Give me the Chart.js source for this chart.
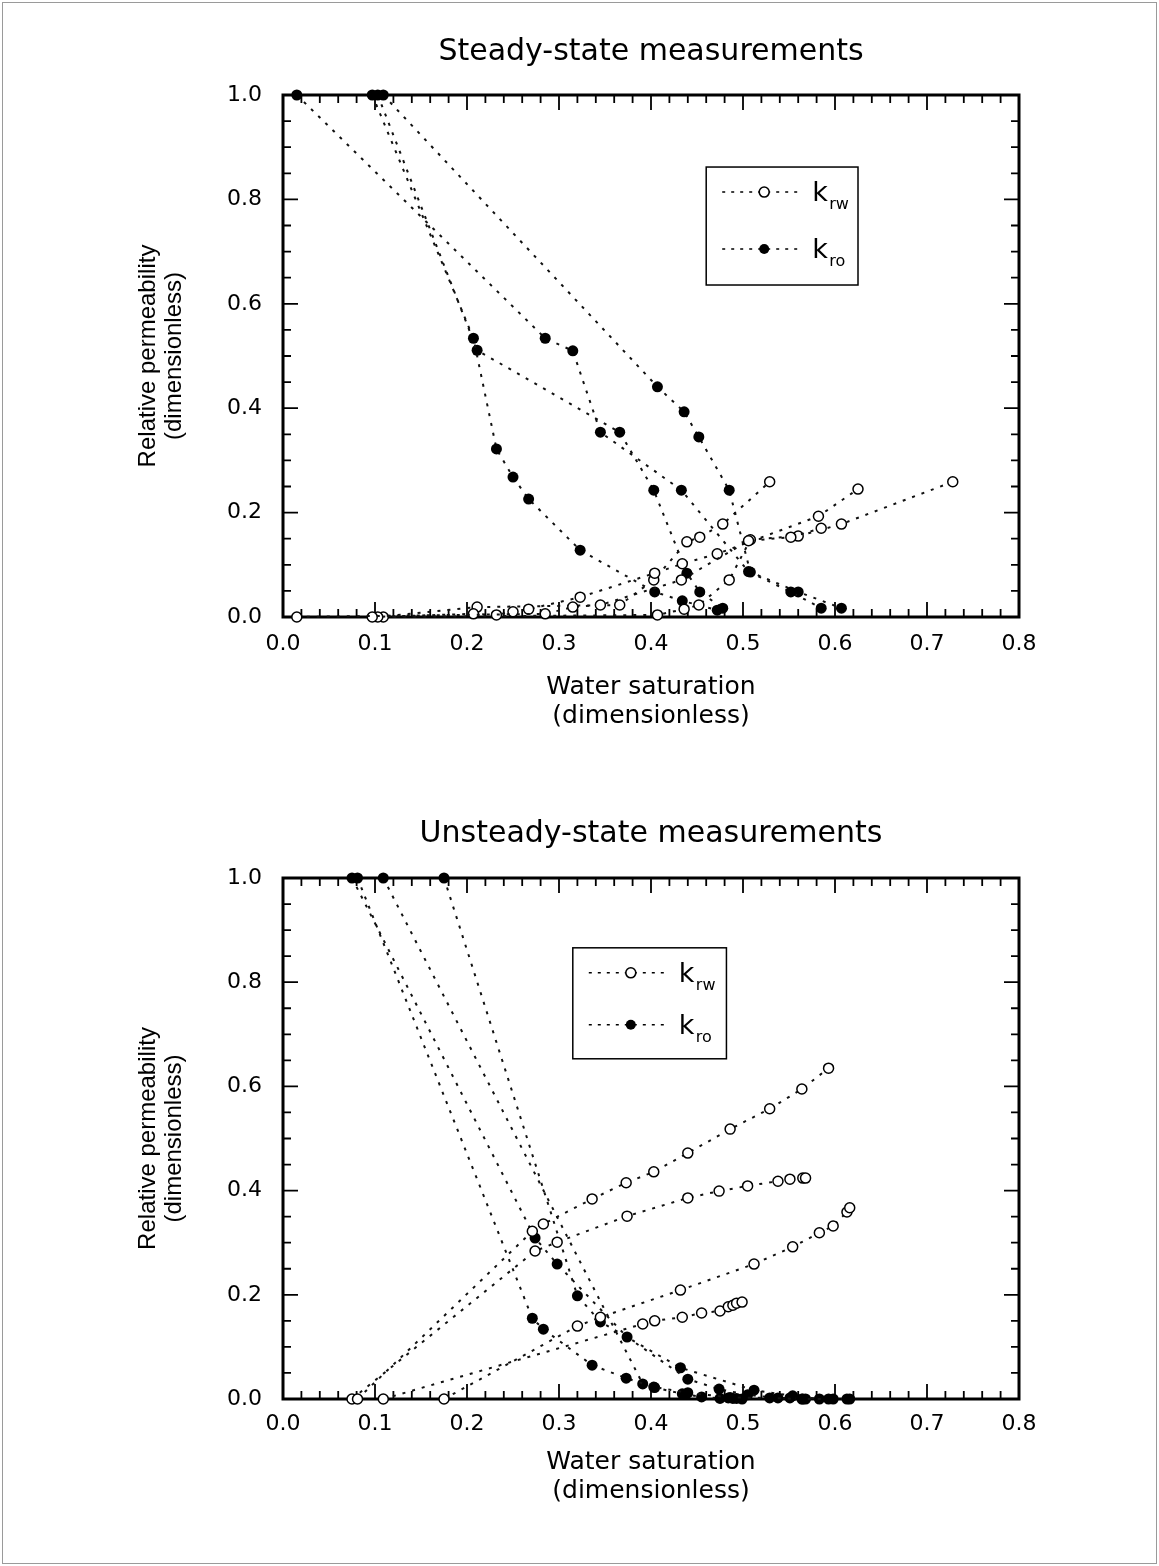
<!DOCTYPE html>
<html lang="en">
<head>
<meta charset="UTF-8">
<title>Relative permeability measurements</title>
<script src="https://cdn.jsdelivr.net/npm/chart.js"></script>
<style>
    html, body {
        margin: 0;
        padding: 0;
        background: #fff;
        overflow: hidden;
    }

    .page {
        position: relative;
        width: 1159px;
        height: 1566px;
    }

    .frame {
        position: absolute;
        left: 2px;
        top: 2px;
        width: 1153px;
        height: 1560px;
        border: 1px solid #9a9a9a;
    }

    .chart-box {
        position: absolute;
        left: 0;
        width: 1159px;
        height: 783px;
    }
</style>
</head>
<body>
<div class="page">
    <div class="frame"></div>
    <div class="chart-box" style="top:0"><canvas id="steadyChart" width="1159" height="783"></canvas></div>
    <div class="chart-box" style="top:783px"><canvas id="unsteadyChart" width="1159" height="783"></canvas></div>
</div>

<script>
    // ---- Steady-state data (water saturation, kro, krw) ----
    const ssSwA  = [0.015, 0.285, 0.315, 0.345, 0.433, 0.506, 0.552, 0.585];
    const ssKroA = [1.0,   0.534, 0.510, 0.354, 0.243, 0.087, 0.048, 0.017];
    const ssKrwA = [0.0,   0.006, 0.019, 0.023, 0.071, 0.146, 0.153, 0.170];

    const ssSwB  = [0.097, 0.207, 0.232, 0.250, 0.267, 0.323, 0.404, 0.434, 0.472, 0.582, 0.625];
    const ssKroB = [1.0,   0.534, 0.322, 0.268, 0.226, 0.128, 0.048, 0.031, 0.013, null,  null];
    const ssKrwB = [0.0,   0.006, 0.004, 0.010, 0.015, 0.038, 0.084, 0.102, 0.121, 0.193, 0.245];

    const ssSwC  = [0.103, 0.211, 0.366, 0.403, 0.439, 0.453, 0.478, 0.529];
    const ssKroC = [1.0,   0.511, 0.354, 0.243, 0.084, 0.048, 0.017, null];
    const ssKrwC = [0.0,   0.019, 0.023, 0.071, 0.144, 0.153, 0.178, 0.259];

    const ssSwD  = [0.109, 0.407, 0.436, 0.452, 0.485, 0.508, 0.560, 0.607, 0.728];
    const ssKroD = [1.0,   0.441, 0.393, 0.345, 0.243, 0.086, 0.048, 0.017, null];
    const ssKrwD = [0.0,   0.004, 0.015, 0.023, 0.071, 0.148, 0.155, 0.178, 0.259];

    // ---- Unsteady-state data ----
    const usSw1  = [0.081, 0.271, 0.283, 0.336, 0.373, 0.403, 0.440, 0.486, 0.529, 0.564, 0.593];
    const usKro1 = [1.0,   0.155, 0.134, 0.065, 0.040, 0.023, 0.012, 0.003, 0.002, 0.0,   0.0];
    const usKrw1 = [0.0,   0.322, 0.336, 0.384, 0.415, 0.436, 0.472, 0.518, 0.557, 0.595, 0.635];

    const usSw2  = [0.075, 0.274, 0.298, 0.374, 0.440, 0.474, 0.505, 0.538, 0.551, 0.565, 0.568];
    const usKro2 = [1.0,   0.309, 0.259, 0.119, 0.038, 0.019, 0.008, 0.002, 0.002, 0.0,   0.0];
    const usKrw2 = [0.0,   0.284, 0.301, 0.351, 0.386, 0.399, 0.409, 0.418, 0.422, 0.424, 0.424];

    const usSw3  = [0.109, 0.391, 0.404, 0.434, 0.455, 0.475, 0.484, 0.489, 0.493, 0.499];
    const usKro3 = [1.0,   0.029, 0.022, 0.010, 0.004, 0.001, 0.002, 0.001, 0.001, 0.0];
    const usKrw3 = [0.0,   0.144, 0.150, 0.157, 0.165, 0.169, 0.177, 0.180, 0.184, 0.186];

    const usSw4  = [0.175, 0.320, 0.345, 0.432, 0.512, 0.554, 0.583, 0.598, 0.613, 0.616];
    const usKro4 = [1.0,   0.198, 0.148, 0.060, 0.017, 0.006, 0.0,   0.0,   0.0,   0.0];
    const usKrw4 = [0.0,   0.140, 0.157, 0.209, 0.259, 0.292, 0.319, 0.332, 0.359, 0.367];

    const xTitleLines = ['Water saturation', '(dimensionless)'];
    const yTitleLines = ['Relative permeability', '(dimensionless)'];

    Chart.defaults.color = '#000';

    // pair saturations with a curve, dropping points that were not plotted
    function pts(sw, k) {
        return sw.map((x, i) => ({ x: x, y: k[i] })).filter(p => p.y !== null);
    }

    function curve(sw, k, filled) {
        return {
            data: pts(sw, k),
            showLine: true,
            borderColor: '#111',
            borderWidth: 2,
            borderDash: [3, 7],
            pointStyle: 'circle',
            pointRadius: filled ? 5.5 : 5,
            pointBackgroundColor: filled ? '#000' : '#fff',
            pointBorderColor: '#000',
            pointBorderWidth: filled ? 0 : 1.5,
            clip: false
        };
    }

    // thick frame with inward ticks on all four sides
    const frameTicks = {
        id: 'frameTicks',
        beforeDatasetsDraw(chart) {
            const { ctx, chartArea: a, scales: { x, y } } = chart;
            ctx.save();
            ctx.strokeStyle = '#000';
            ctx.lineWidth = 1.8;
            ctx.beginPath();
            for (let i = 0; i <= 40; i++) {
                const px = x.getPixelForValue(i * 0.02);
                const len = i % 5 === 0 ? 15 : 8;
                ctx.moveTo(px, a.bottom); ctx.lineTo(px, a.bottom - len);
                ctx.moveTo(px, a.top); ctx.lineTo(px, a.top + len);
            }
            for (let j = 0; j <= 20; j++) {
                const py = y.getPixelForValue(j * 0.05);
                const len = j % 4 === 0 ? 15 : 8;
                ctx.moveTo(a.left, py); ctx.lineTo(a.left + len, py);
                ctx.moveTo(a.right, py); ctx.lineTo(a.right - len, py);
            }
            ctx.stroke();
            ctx.lineWidth = 3;
            ctx.strokeRect(a.left, a.top, a.right - a.left, a.bottom - a.top);
            ctx.restore();
        }
    };

    // boxed key with k_rw / k_ro
    const kKey = {
        id: 'kKey',
        afterDatasetsDraw(chart, args, o) {
            const { ctx, scales: { x, y } } = chart;
            const L = x.getPixelForValue(o.x0), R = x.getPixelForValue(o.x1);
            const T = y.getPixelForValue(o.y1), B = y.getPixelForValue(o.y0);
            ctx.save();
            ctx.fillStyle = '#fff';
            ctx.fillRect(L, T, R - L, B - T);
            ctx.strokeStyle = '#000';
            ctx.lineWidth = 1.5;
            ctx.strokeRect(L, T, R - L, B - T);
            const rows = [{ sub: 'rw', filled: false, dy: o.row1 }, { sub: 'ro', filled: true, dy: o.row2 }];
            rows.forEach(r => {
                const yy = T + r.dy;
                ctx.setLineDash([3, 6]);
                ctx.lineWidth = 1.6;
                ctx.beginPath();
                ctx.moveTo(L + 16, yy); ctx.lineTo(L + 96, yy);
                ctx.stroke();
                ctx.setLineDash([]);
                ctx.beginPath();
                ctx.arc(L + 58, yy, 5, 0, Math.PI * 2);
                ctx.fillStyle = r.filled ? '#000' : '#fff';
                ctx.fill();
                if (!r.filled) ctx.stroke();
                ctx.fillStyle = '#000';
                ctx.textBaseline = 'alphabetic';
                ctx.textAlign = 'left';
                ctx.font = '27px "DejaVu Sans"';
                ctx.fillText('k', L + 106, yy + 9);
                ctx.font = '16px "DejaVu Sans"';
                ctx.fillText(r.sub, L + 123, yy + 17);
            });
            ctx.restore();
        }
    };

    function buildChart(id, titleText, sets, opt) {
        return new Chart(document.getElementById(id), {
            type: 'scatter',
            data: { datasets: sets },
            options: {
                responsive: false,
                animation: false,
                events: [],
                layout: { padding: { left: 0, right: 140, top: 0, bottom: opt.padBottom } },
                plugins: {
                    legend: { display: false },
                    tooltip: { enabled: false },
                    title: {
                        display: true,
                        text: titleText,
                        fullSize: false,
                        color: '#000',
                        font: { family: 'DejaVu Sans', size: 30, weight: 'normal', lineHeight: 1.2 },
                        padding: { top: opt.titleTop, bottom: opt.titleBottom }
                    },
                    kKey: opt.key
                },
                scales: {
                    x: {
                        type: 'linear',
                        min: 0,
                        max: 0.8,
                        grid: { display: false },
                        border: { display: false },
                        ticks: {
                            stepSize: 0.1,
                            padding: opt.xTickPad,
                            color: '#000',
                            font: { family: 'DejaVu Sans', size: 22 },
                            callback: v => v.toFixed(1)
                        },
                        title: {
                            display: true,
                            text: xTitleLines,
                            color: '#000',
                            font: { family: 'DejaVu Sans', size: 25, lineHeight: 1.16 },
                            padding: { top: 0, bottom: opt.xTitlePad }
                        },
                        afterFit: s => { s.height = 140; }
                    },
                    y: {
                        type: 'linear',
                        min: 0,
                        max: 1,
                        grid: { display: false },
                        border: { display: false },
                        ticks: {
                            stepSize: 0.2,
                            padding: 13,
                            color: '#000',
                            font: { family: 'DejaVu Sans', size: 22 },
                            callback: v => v.toFixed(1)
                        },
                        title: {
                            display: true,
                            text: yTitleLines,
                            color: '#000',
                            font: { family: 'Liberation Sans', size: 24, lineHeight: 1.12 },
                            padding: { top: 134.5, bottom: 0 }
                        },
                        afterFit: s => { s.width = 283; }
                    }
                }
            },
            plugins: [frameTicks, kKey]
        });
    }

    buildChart('steadyChart', 'Steady-state measurements', [
        curve(ssSwA, ssKrwA, false), curve(ssSwB, ssKrwB, false),
        curve(ssSwC, ssKrwC, false), curve(ssSwD, ssKrwD, false),
        curve(ssSwA, ssKroA, true), curve(ssSwB, ssKroB, true),
        curve(ssSwC, ssKroC, true), curve(ssSwD, ssKroD, true)
    ], {
        padBottom: 26, titleTop: 34, titleBottom: 25, xTickPad: 6, xTitlePad: 26.5,
        key: { x0: 0.46, x1: 0.625, y0: 0.636, y1: 0.862, row1: 25, row2: 82 }
    });

    buildChart('unsteadyChart', 'Unsteady-state measurements', [
        curve(usSw1, usKrw1, false), curve(usSw2, usKrw2, false),
        curve(usSw3, usKrw3, false), curve(usSw4, usKrw4, false),
        curve(usSw1, usKro1, true), curve(usSw2, usKro2, true),
        curve(usSw3, usKro3, true), curve(usSw4, usKro4, true)
    ], {
        padBottom: 27, titleTop: 33, titleBottom: 26, xTickPad: 4, xTitlePad: 33.5,
        key: { x0: 0.315, x1: 0.482, y0: 0.653, y1: 0.866, row1: 25, row2: 77 }
    });
</script>
</body>
</html>
